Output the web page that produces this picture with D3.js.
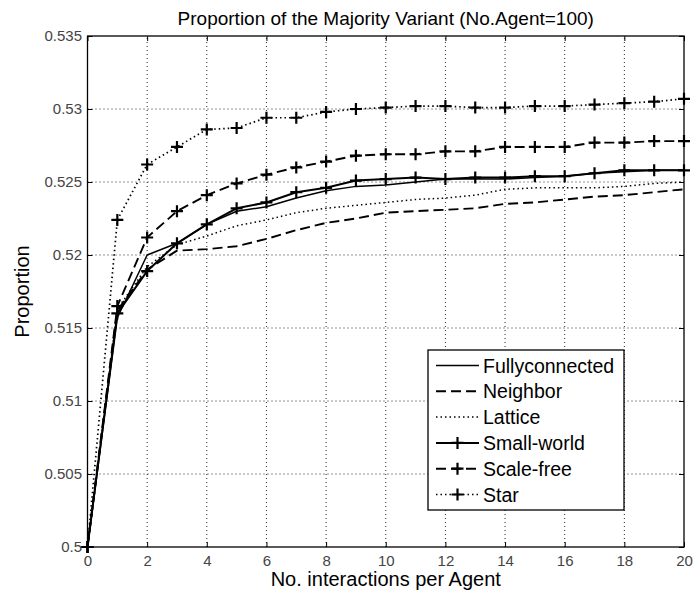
<!DOCTYPE html>
<html>
<head>
<meta charset="utf-8">
<script src="https://cdn.jsdelivr.net/npm/d3@7"></script>
<style>
  html, body { margin: 0; padding: 0; background: #fff; }
  svg { display: block; }
  text { font-family: "Liberation Sans", Arial, Helvetica, sans-serif; }
</style>
</head>
<body>
<svg id="chart" width="693" height="595"></svg>
<script>
// Interactions per agent (x axis)
const steps = d3.range(0, 21);

// Proportion of the majority variant for each network type
const fullyconnected = [0.5, 0.5157, 0.5200, 0.5208, 0.5221, 0.5230, 0.5233, 0.5239, 0.5244, 0.5247, 0.5248,
                        0.5250, 0.5252, 0.5252, 0.5252, 0.5253, 0.5254, 0.5256, 0.5257, 0.5258, 0.5258];
const neighbor       = [0.5, 0.5162, 0.5190, 0.5203, 0.5204, 0.5206, 0.5211, 0.5217, 0.5222, 0.5225, 0.5229,
                        0.5230, 0.5231, 0.5232, 0.5235, 0.5236, 0.5238, 0.5240, 0.5241, 0.5243, 0.5245];
const lattice        = [0.5, 0.5163, 0.5192, 0.5207, 0.5213, 0.5220, 0.5224, 0.5229, 0.5232, 0.5234, 0.5236,
                        0.5238, 0.5239, 0.5241, 0.5245, 0.5246, 0.5246, 0.5246, 0.5247, 0.5249, 0.5250];
const smallWorld     = [0.5, 0.5160, 0.5189, 0.5208, 0.5221, 0.5232, 0.5236, 0.5243, 0.5246, 0.5251, 0.5252,
                        0.5253, 0.5252, 0.5253, 0.5253, 0.5254, 0.5254, 0.5256, 0.5258, 0.5258, 0.5258];
const scaleFree      = [0.5, 0.5165, 0.5212, 0.5230, 0.5241, 0.5249, 0.5255, 0.5260, 0.5264, 0.5268, 0.5269,
                        0.5269, 0.5271, 0.5271, 0.5274, 0.5274, 0.5274, 0.5277, 0.5277, 0.5278, 0.5278];
const star           = [0.5, 0.5224, 0.5262, 0.5274, 0.5286, 0.5287, 0.5294, 0.5294, 0.5298, 0.5300, 0.5301,
                        0.5302, 0.5302, 0.5301, 0.5301, 0.5302, 0.5302, 0.5303, 0.5304, 0.5305, 0.5307];

// Axis ticks
const xTicks = [0, 2, 4, 6, 8, 10, 12, 14, 16, 18, 20];
const yTicks = [0.5, 0.505, 0.51, 0.515, 0.52, 0.525, 0.53, 0.535];
const yTickLabels = ["0.5", "0.505", "0.51", "0.515", "0.52", "0.525", "0.53", "0.535"];

const seriesNames = ["Fullyconnected", "Neighbor", "Lattice", "Small-world", "Scale-free", "Star"];
const seriesValues = [fullyconnected, neighbor, lattice, smallWorld, scaleFree, star];

// Line styles per series: dash pattern, width, marker
const styles = [
  { dash: null,   width: 1.5, marker: false },
  { dash: "10,5", width: 1.9, marker: false },
  { dash: "1.5,3", width: 1.5, marker: false },
  { dash: null,   width: 2,   marker: true },
  { dash: "10,5", width: 1.9, marker: true },
  { dash: "1.5,3", width: 1.7, marker: true }
];

const svg = d3.select("#chart");
const W = 693, H = 595;
const margin = { left: 87.5, right: W - 684, top: 36, bottom: H - 547 };

const x = d3.scaleLinear().domain([0, 20]).range([margin.left, W - margin.right]);
const y = d3.scaleLinear().domain([0.5, 0.535]).range([H - margin.bottom, margin.top]);

// Grid (dotted)
const grid = svg.append("g").attr("stroke", "#000").attr("stroke-width", 1)
  .attr("stroke-dasharray", "1,3").attr("fill", "none");
xTicks.slice(1, -1).forEach(t => {
  grid.append("line").attr("x1", x(t)).attr("x2", x(t)).attr("y1", y(0.5)).attr("y2", y(0.535))
    .attr("stroke-opacity", 0.85);
});
yTicks.slice(1, -1).forEach(t => {
  grid.append("line").attr("x1", x(0)).attr("x2", x(20)).attr("y1", y(t)).attr("y2", y(t))
    .attr("stroke-opacity", 0.85);
});

// Axes with inward ticks
const xAxis = d3.axisBottom(x).tickValues(xTicks).tickSize(-5).tickPadding(8).tickFormat(d3.format("d"));
const yAxis = d3.axisLeft(y).tickValues(yTicks).tickSize(-5).tickPadding(5.5)
  .tickFormat((d, i) => yTickLabels[i]);

const gx = svg.append("g").attr("transform", `translate(0,${y(0.5)})`).call(xAxis);
const gy = svg.append("g").attr("transform", `translate(${x(0)},0)`).call(yAxis);
[gx, gy].forEach(g => {
  g.select(".domain").remove();
  g.selectAll(".tick line").attr("stroke", "#000");
  g.selectAll(".tick text").attr("fill", "#444").style("font-size", "15px");
});

// Mirror ticks on top and right
const gxTop = svg.append("g").attr("transform", `translate(0,${y(0.535)})`)
  .call(d3.axisTop(x).tickValues(xTicks).tickSize(-5).tickFormat(""));
const gyRight = svg.append("g").attr("transform", `translate(${x(20)},0)`)
  .call(d3.axisRight(y).tickValues(yTicks).tickSize(-5).tickFormat(""));
[gxTop, gyRight].forEach(g => { g.select(".domain").remove(); g.selectAll(".tick line").attr("stroke", "#000"); });

// Axes box
svg.append("rect").attr("x", x(0)).attr("y", y(0.535))
  .attr("width", x(20) - x(0)).attr("height", y(0.5) - y(0.535))
  .attr("fill", "none").attr("stroke", "#000").attr("stroke-width", 1.3);

// Series lines
const line = d3.line().x((d, i) => x(steps[i])).y(d => y(d));
const plot = svg.append("g");

function plus(g, cx, cy) {
  g.append("path")
    .attr("d", `M${cx - 6},${cy}H${cx + 6}M${cx},${cy - 6}V${cy + 6}`)
    .attr("stroke", "#000").attr("stroke-width", 2.2).attr("fill", "none");
}

seriesValues.forEach((vals, k) => {
  const s = styles[k];
  plot.append("path").datum(vals).attr("d", line)
    .attr("fill", "none").attr("stroke", "#000").attr("stroke-width", s.width)
    .attr("stroke-dasharray", s.dash).attr("stroke-linejoin", "round");
  if (s.marker) {
    vals.forEach((v, i) => plus(plot, x(steps[i]), y(v)));
  }
});

// Legend
const lg = svg.append("g");
const lgX = 428, lgY = 350, lgW = 196, lgH = 160;
lg.append("rect").attr("x", lgX).attr("y", lgY).attr("width", lgW).attr("height", lgH)
  .attr("fill", "#fff").attr("stroke", "#000").attr("stroke-width", 1.3);
seriesNames.forEach((name, k) => {
  const s = styles[k];
  const cy = lgY + 15.5 + k * 25.8;
  lg.append("line").attr("x1", lgX + 8).attr("x2", lgX + 51).attr("y1", cy).attr("y2", cy)
    .attr("stroke", "#000").attr("stroke-width", s.width).attr("stroke-dasharray", s.dash);
  if (s.marker) plus(lg, lgX + 29.5, cy);
  lg.append("text").attr("x", lgX + 55).attr("y", cy).attr("dy", "0.36em")
    .style("font-size", "19.5px").attr("fill", "#000").text(name);
});

// Title and axis labels
svg.append("text").attr("x", (x(0) + x(20)) / 2).attr("y", 25).attr("text-anchor", "middle")
  .style("font-size", "19px").text("Proportion of the Majority Variant (No.Agent=100)");
svg.append("text").attr("x", (x(0) + x(20)) / 2).attr("y", 586).attr("text-anchor", "middle")
  .style("font-size", "20px").text("No. interactions per Agent");
svg.append("text").attr("transform", `translate(29,${(y(0.5) + y(0.535)) / 2}) rotate(-90)`)
  .attr("text-anchor", "middle").style("font-size", "20px").text("Proportion");
</script>
</body>
</html>
